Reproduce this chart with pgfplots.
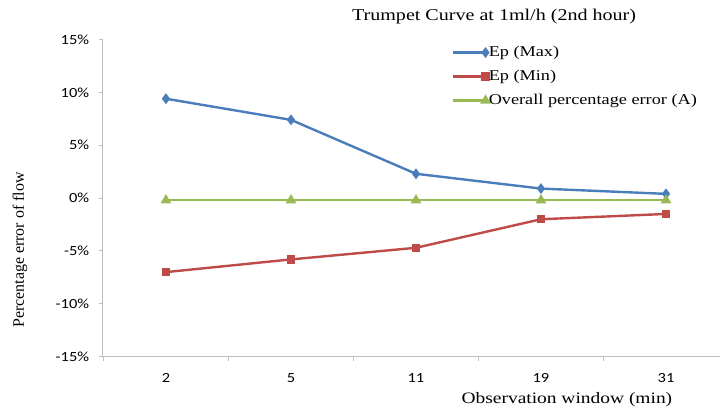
\documentclass[border=0pt]{standalone}
\usepackage{pgfplots}
\pgfplotsset{compat=1.18}
\usepackage{fontspec}
\setmainfont{Liberation Serif}
\newfontfamily\wideserif[FakeStretch=1.22]{Liberation Serif}
\newfontfamily\tickfont[FakeStretch=1.18]{Carlito}
\definecolor{cmax}{HTML}{4A7EBB}
\definecolor{cmin}{HTML}{BE4B48}
\definecolor{cavg}{HTML}{98B954}
\definecolor{axisgray}{HTML}{BFBFBF}
\begin{document}
\begin{tikzpicture}
\path[use as bounding box] (0bp,0bp) rectangle (720bp,414bp);
\begin{axis}[
    at={(102.7bp,57.3bp)}, anchor=south west,
    scale only axis, width=617.3bp, height=317.2bp,
    xmin=-0.506, xmax=4.432, ymin=-15, ymax=15,
    axis x line=bottom, axis y line=left,
    axis line style={draw=axisgray, line width=1bp, -},
    xtick={0,1,2,3,4}, xticklabels={2,5,11,19,31},
    major x tick style={draw=none},
    minor xtick={-0.5,0.5,1.5,2.5,3.5},
    ytick={-15,-10,-5,0,5,10,15},
    yticklabels={-15\%,-10\%,-5\%,0\%,5\%,10\%,15\%},
    tick align=outside,
    tick style={draw=axisgray, line width=1bp},
    major tick length=4bp, minor tick length=4bp,
    ticklabel style={font=\tickfont\fontsize{14}{14}\selectfont},
    xticklabel style={yshift=-9bp},
    yticklabel style={xshift=-6bp},
    title={Trumpet Curve at 1ml/h (2nd hour)},
    title style={at={(axis description cs:0.634,1.055)}, anchor=center, inner sep=0pt,
        font=\wideserif\fontsize{16.5}{16.5}\selectfont},
    xlabel={Observation window (min)},
    xlabel style={at={(axis description cs:0.752,-0.1365)}, anchor=center, inner sep=0pt,
        font=\wideserif\fontsize{16}{16}\selectfont},
    ylabel={Percentage error of flow},
    ylabel style={at={(axis description cs:-0.134,0.336)}, anchor=center, rotate=0, inner sep=0pt,
        font=\fontsize{16}{16}\selectfont},
    legend style={draw=none, fill=none, at={(axis description cs:0.566,0.983)}, anchor=north west,
        font=\wideserif\fontsize{15}{15}\selectfont, row sep=9bp, column sep=0bp, inner sep=0pt,
        nodes={inner sep=0pt, text height=11bp, text depth=4bp}},
    legend cell align=left,
    legend image code/.code={
        \draw[#1, mark=none] (0bp,0bp) -- (32bp,0bp);
        \draw[#1, only marks] plot coordinates {(32bp,0bp)};
    },
]
\addplot[cmax, line width=2.4bp, mark=diamond*, mark size=3.5bp] coordinates {
    (0,9.4) (1,7.4) (2,2.3) (3,0.9) (4,0.4)
};
\addplot[cmin, line width=2.4bp, mark=square*, mark size=3bp] coordinates {
    (0,-7.0) (1,-5.8) (2,-4.7) (3,-2.0) (4,-1.5)
};
\addplot[cavg, line width=2.4bp, mark=triangle*, mark size=3.8bp] coordinates {
    (0,-0.2) (1,-0.2) (2,-0.2) (3,-0.2) (4,-0.2)
};
\legend{Ep (Max), Ep (Min), Overall percentage error (A)}
\end{axis}
\end{tikzpicture}
\end{document}
